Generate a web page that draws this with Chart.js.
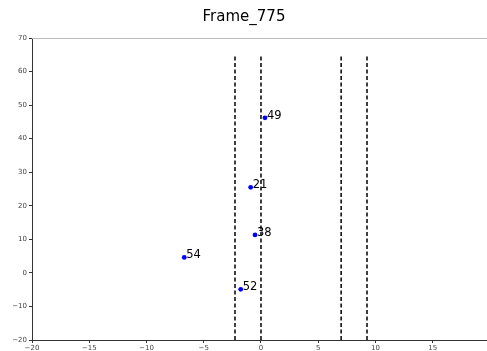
<!DOCTYPE html>
<html>
<head>
<meta charset="utf-8">
<script src="https://cdn.jsdelivr.net/npm/chart.js@4/dist/chart.umd.min.js"></script>
<style>
  html, body { margin: 0; padding: 0; background: #fff; overflow: hidden; }
  canvas { display: block; }
</style>
</head>
<body>
<canvas id="c" width="487" height="351"></canvas>
<script>
// point data
const pointIds = ['49', '21', '38', '54', '52'];
const pointX = [0.35, -0.9, -0.52, -6.7, -1.77];
const pointY = [46.2, 25.5, 11.3, 4.6, -4.9];

// vertical dashed lines
const lineX = [-2.27, 0, 7.0, 9.26];
const lineTop = 65;
const lineBottom = -20;

const xTicks = [-20, -15, -10, -5, 0, 5, 10, 15];
const yTicks = [-20, -10, 0, 10, 20, 30, 40, 50, 60, 70];

const datasets = lineX.map(x => ({
    type: 'line',
    data: [{ x, y: lineBottom }, { x, y: lineTop }],
    borderColor: '#000',
    borderWidth: 1.5,
    borderDash: [4, 2.5],
    pointRadius: 0,
    fill: false
}));
datasets.push({
    type: 'scatter',
    data: pointX.map((x, i) => ({ x, y: pointY[i] })),
    backgroundColor: '#0000ff',
    borderColor: '#0000ff',
    pointRadius: 2.4,
    pointBorderWidth: 0
});

// labels next to points, title and top spine
const extras = {
    id: 'extras',
    afterDraw(chart) {
        const { ctx, chartArea, scales } = chart;
        ctx.save();
        ctx.strokeStyle = '#bbbbbb';
        ctx.lineWidth = 1;
        ctx.beginPath();
        ctx.moveTo(chartArea.left, chartArea.top + 0.5);
        ctx.lineTo(chartArea.right, chartArea.top + 0.5);
        ctx.stroke();

        ctx.fillStyle = '#000';
        ctx.font = '11.5px "DejaVu Sans"';
        ctx.textBaseline = 'alphabetic';
        ctx.textAlign = 'left';
        pointIds.forEach((id, i) => {
            const px = scales.x.getPixelForValue(pointX[i]);
            const py = scales.y.getPixelForValue(pointY[i]);
            ctx.fillText(id, px + 2, py + 1);
        });

        ctx.font = '15px "DejaVu Sans", sans-serif';
        ctx.textAlign = 'center';
        ctx.textBaseline = 'middle';
        ctx.fillText('Frame_775', 244, 17);
        ctx.restore();
    }
};

const tickFont = { family: 'DejaVu Sans', size: 7 };

new Chart(document.getElementById('c'), {
    data: { datasets },
    options: {
        responsive: false,
        animation: false,
        layout: { autoPadding: false, padding: { top: 38, right: 0, left: 0, bottom: 0 } },
        plugins: { legend: { display: false }, tooltip: { enabled: false }, title: { display: false } },
        scales: {
            x: {
                type: 'linear', min: -20, max: 19.74,
                afterBuildTicks: s => { s.ticks = xTicks.map(v => ({ value: v })); },
                afterFit: s => { s.height = 11; s.paddingRight = 0; },
                grid: { drawOnChartArea: false, drawTicks: true, tickLength: 3, color: '#333' },
                border: { color: '#333', width: 1 },
                ticks: { font: tickFont, color: '#444', padding: 1, maxRotation: 0,
                    callback: v => String(v).replace('-', '\u2212') }
            },
            y: {
                type: 'linear', min: -20, max: 70,
                afterBuildTicks: s => { s.ticks = yTicks.map(v => ({ value: v })); },
                afterFit: s => { s.width = 32; },
                grid: { drawOnChartArea: false, drawTicks: true, tickLength: 3, color: '#333' },
                border: { color: '#333', width: 1 },
                ticks: { font: tickFont, color: '#444', padding: 2,
                    callback: v => String(v).replace('-', '\u2212') }
            }
        }
    },
    plugins: [extras]
});
</script>
</body>
</html>
